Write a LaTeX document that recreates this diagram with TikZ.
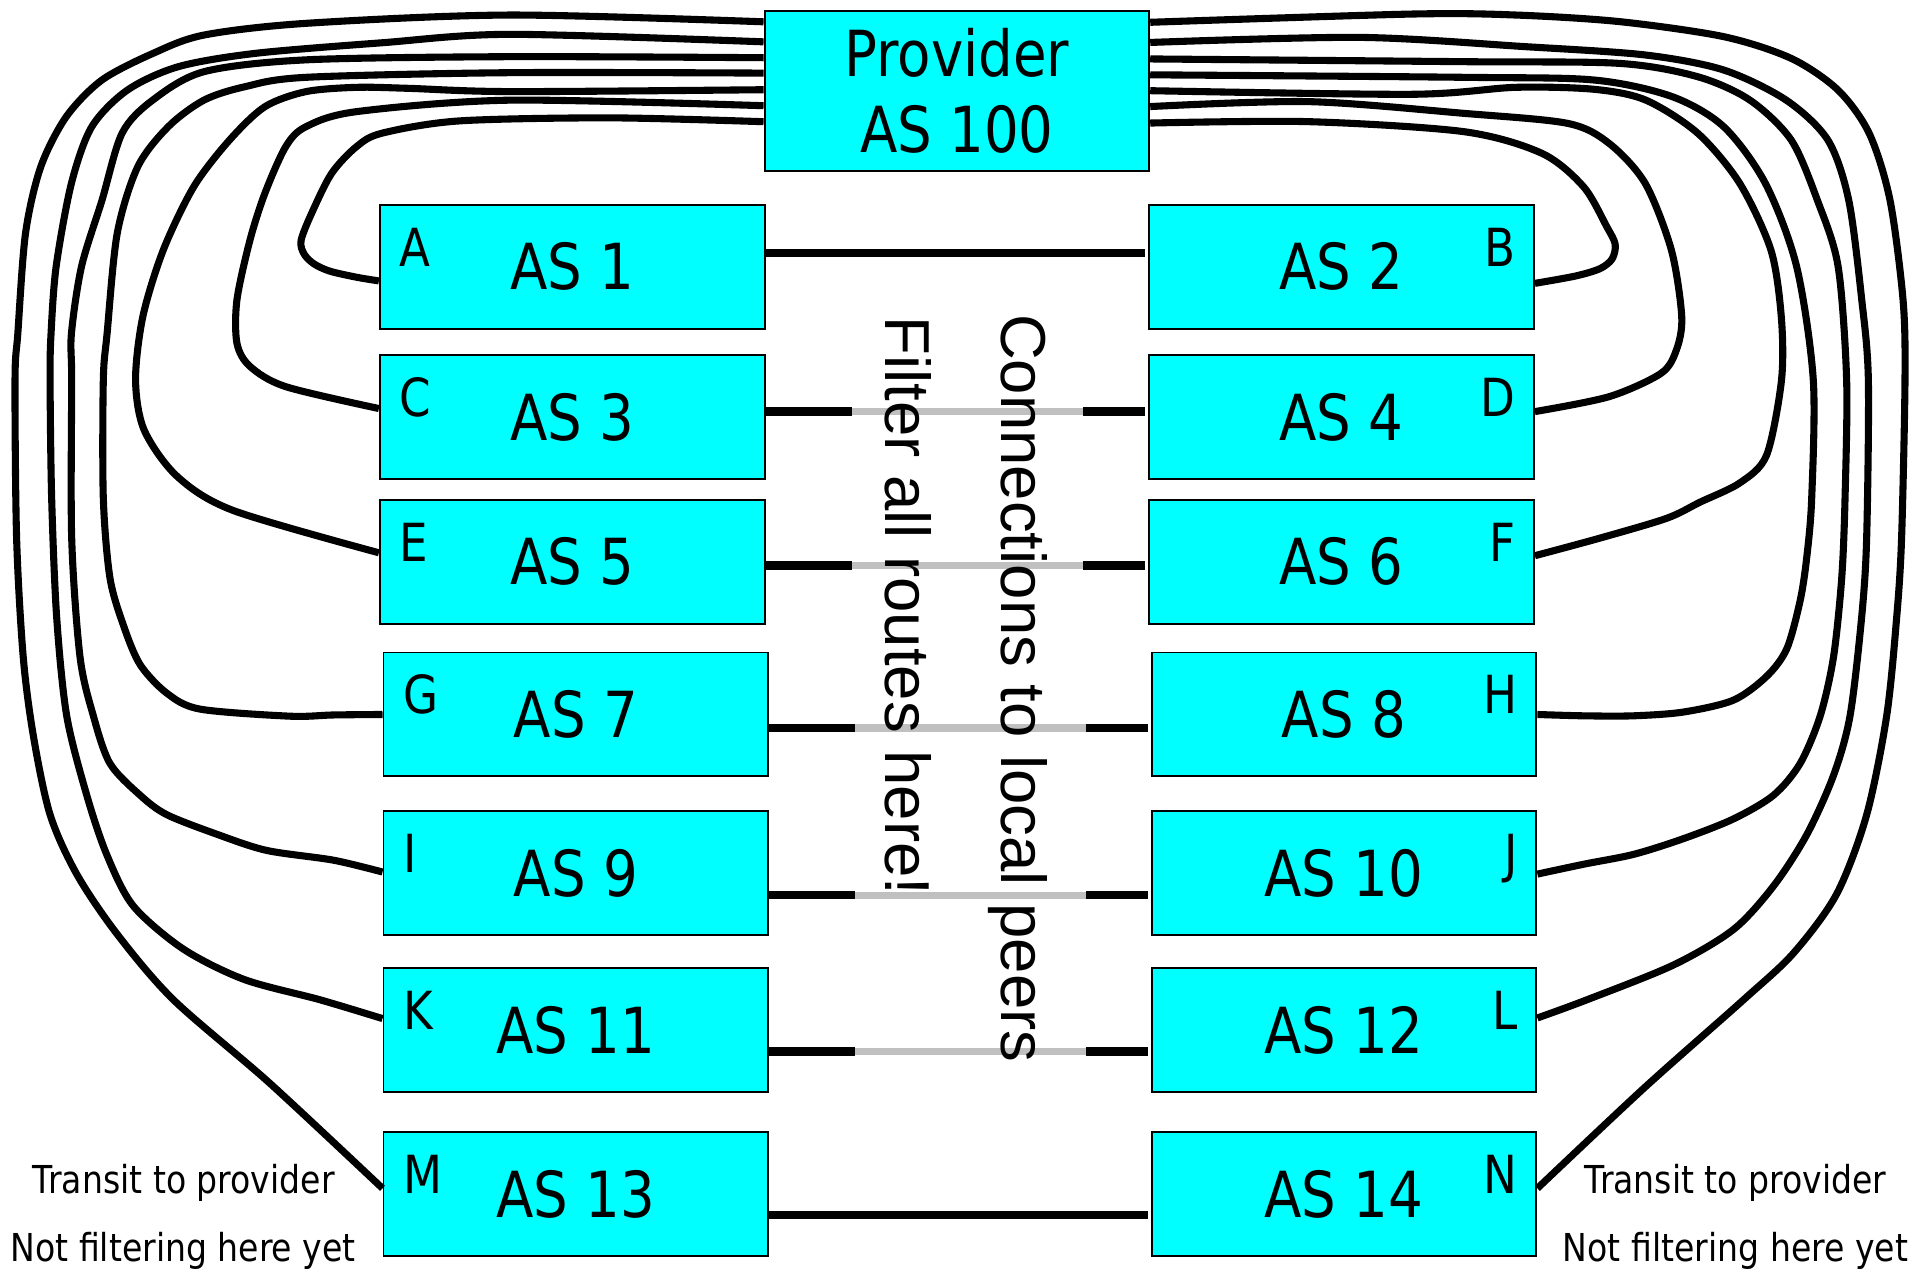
\documentclass[tikz,border=0pt]{standalone}
\usepackage{fontspec}
\newfontfamily\tah[FakeStretch=0.86]{DejaVu Sans}
\newfontfamily\ari{Liberation Sans}
\definecolor{boxc}{RGB}{0,255,255}
\definecolor{linkgray}{RGB}{192,192,192}
\begin{document}
\begin{tikzpicture}[x=1pt,y=-1pt,
  asbox/.style={draw=black, line width=1.6pt, fill=boxc, minimum width=315pt, minimum height=101.5pt, inner sep=0pt, font=\tah\fontsize{52}{62}\selectfont},
  tagl/.style={font=\tah\fontsize{43}{50}\selectfont, inner sep=0pt, anchor=base west},
  tagr/.style={font=\tah\fontsize{43}{50}\selectfont, inner sep=0pt, anchor=base east},
  note/.style={font=\tah\fontsize{31.5}{36}\selectfont, inner sep=0pt, anchor=base},
  rot/.style={font=\ari\fontsize{52}{60}\selectfont, inner sep=0pt, rotate=-90, anchor=base west},
  wire/.style={line width=5.8pt, line join=round},
  link/.style={line width=6.8pt},
  glink/.style={line width=6pt, draw=linkgray}]
\useasboundingbox (0,0) rectangle (1568,1045);

% boxes
\node[asbox, minimum height=130.7pt, align=center] (P) at (783.5,74.4) {Provider\\AS 100};
\node[asbox] (a1) at (468.5,218.5) {AS 1};
\node[asbox] (a3) at (468.5,341.5) {AS 3};
\node[asbox] (a5) at (468.5,460) {AS 5};
\node[asbox] (a7) at (471.5,585) {AS 7};
\node[asbox] (a9) at (471.5,715) {AS 9};
\node[asbox] (a11) at (471.5,843.5) {AS 11};
\node[asbox] (a13) at (471.5,978) {AS 13};
\node[asbox] (a2) at (1098.5,218.5) {AS 2};
\node[asbox] (a4) at (1098.5,341.5) {AS 4};
\node[asbox] (a6) at (1098.5,460) {AS 6};
\node[asbox] (a8) at (1100.5,585) {AS 8};
\node[asbox] (a10) at (1100.5,715) {AS 10};
\node[asbox] (a12) at (1100.5,843.5) {AS 12};
\node[asbox] (a14) at (1100.5,978) {AS 14};

% letters
\node[tagl] (lA) at ([xshift=17pt,yshift=-51pt]a1.north west) {A};
\node[tagl] (lC) at ([xshift=17pt,yshift=-51pt]a3.north west) {C};
\node[tagl] (lE) at ([xshift=17pt,yshift=-51pt]a5.north west) {E};
\node[tagl] (lG) at ([xshift=17pt,yshift=-51pt]a7.north west) {G};
\node[tagl] (lI) at ([xshift=17pt,yshift=-51pt]a9.north west) {I};
\node[tagl] (lK) at ([xshift=17pt,yshift=-51pt]a11.north west) {K};
\node[tagl] (lM) at ([xshift=17pt,yshift=-51pt]a13.north west) {M};
\node[tagr] (lB) at ([xshift=-16pt,yshift=-51pt]a2.north east) {B};
\node[tagr] (lD) at ([xshift=-16pt,yshift=-51pt]a4.north east) {D};
\node[tagr] (lF) at ([xshift=-16pt,yshift=-51pt]a6.north east) {F};
\node[tagr] (lH) at ([xshift=-16pt,yshift=-51pt]a8.north east) {H};
\node[tagr] (lJ) at ([xshift=-16pt,yshift=-51pt]a10.north east) {J};
\node[tagr] (lL) at ([xshift=-16pt,yshift=-51pt]a12.north east) {L};
\node[tagr] (lN) at ([xshift=-16pt,yshift=-51pt]a14.north east) {N};

% peer links
\draw[link] ([yshift=11.5pt]a1.east) -- ([yshift=11.5pt,xshift=-2.5pt]a2.west);
\draw[link] ([yshift=-17pt]a13.east) -- ([yshift=-17pt,xshift=-2.5pt]a14.west);
\foreach \u/\v/\s in {a3/a4/4.5, a5/a6/-3, a7/a8/-11, a9/a10/-18, a11/a12/-17.5}{
  \path ([yshift=\s pt]\u.east) coordinate (s\u) -- ([yshift=\s pt,xshift=-2.5pt]\v.west) coordinate (t\u)
     coordinate[pos=0.228] (g1\u) coordinate[pos=0.837] (g2\u);
  \draw[link] (s\u) -- (g1\u);
  \draw[glink] (g1\u) -- (g2\u);
  \draw[link] (g2\u) -- (t\u);
}

% curve end points
\coordinate (plM) at ([yshift=-9.6pt]P.north west);
\coordinate (plK) at ([yshift=-26pt]P.north west);
\coordinate (plI) at ([yshift=-39pt]P.north west);
\coordinate (plG) at ([yshift=-51.6pt]P.north west);
\coordinate (plE) at ([yshift=-65.2pt]P.north west);
\coordinate (plC) at ([yshift=-78.3pt]P.north west);
\coordinate (plA) at ([yshift=-91.4pt]P.north west);
\coordinate (prN) at ([yshift=-10pt]P.north east);
\coordinate (prL) at ([yshift=-26.5pt]P.north east);
\coordinate (prJ) at ([yshift=-40pt]P.north east);
\coordinate (prH) at ([yshift=-53pt]P.north east);
\coordinate (prF) at ([yshift=-66pt]P.north east);
\coordinate (prD) at ([yshift=-79pt]P.north east);
\coordinate (prB) at ([yshift=-92.5pt]P.north east);
\coordinate (eA) at ([yshift=-11.5pt]a1.west);
\coordinate (eC) at ([yshift=7pt]a3.west);
\coordinate (eE) at ([yshift=7.4pt]a5.west);
\coordinate (eG) at (a7.west);
\coordinate (eI) at ([yshift=1pt]a9.west);
\coordinate (eK) at ([yshift=9.5pt]a11.west);
\coordinate (eM) at ([yshift=5pt]a13.west);
\coordinate (eB) at ([yshift=-13.5pt]a2.east);
\coordinate (eD) at ([yshift=4.5pt]a4.east);
\coordinate (eF) at ([yshift=5pt]a6.east);
\coordinate (eH) at (a8.east);
\coordinate (eJ) at ([yshift=-0.7pt]a10.east);
\coordinate (eL) at ([yshift=10pt]a12.east);
\coordinate (eN) at ([yshift=5pt]a14.east);

% transit curves, left
\draw[wire] plot[smooth, tension=0.5] coordinates {(plA) (500,96.5) (376,99) (313,109) (292,120) (271.5,142) (255,175) (246.5,197) (249,208) (257,216) (270,222) (292,227) (eA)};
\draw[wire] plot[smooth, tension=0.5] coordinates {(plC) (418,82) (292,91.4) (250.6,103.7) (234,120) (217,158) (204.7,196.5) (194,245.6) (194,281) (204.7,300) (234,316.6) (eC)};
\draw[wire] plot[smooth, tension=0.5] coordinates {(plE) (418,75) (334,72.3) (292,71.5) (250.6,75) (217,87.3) (188,114.6) (158.7,152.8) (133.7,204.7) (117,259) (111,311) (118,352) (145,390) (191,418) (eE)};
\draw[wire] plot[smooth, tension=0.5] coordinates {(plG) (418,59.5) (250.6,63.3) (200.5,71) (167,82) (137.8,103.7) (112.8,136.5) (96,191) (87.7,273) (84.6,311) (84.6,408) (90,473) (101,511.8) (114.6,544) (136.5,567.5) (163.8,580.6) (237.4,586.4) (273,585.4) (eG)};
\draw[wire] plot[smooth, tension=0.5] coordinates {(plI) (418,46.4) (250.6,49) (167,58.7) (125,82) (100,109) (83.5,164) (66.8,218) (58.5,273) (58.7,311) (58.7,440.6) (65.5,537.7) (76.4,586) (90,625) (114.6,651) (136.5,667) (177.4,683) (218.3,696.3) (273,704.3) (eI)};
\draw[wire] plot[smooth, tension=0.5] coordinates {(plK) (418,28.1) (313,35) (208.9,43.7) (146,54.6) (104.4,73.7) (75.2,103.7) (58.5,150) (46,218) (41.8,273) (41,311) (42.3,408) (46.4,505.3) (54.6,586) (71,651) (87.3,699.5) (109,741.6) (150,777) (200,802) (262,818.6) (eK)};
\draw[wire] plot[smooth, tension=0.5] coordinates {(plM) (418,12.3) (250.6,19.1) (167,28.7) (125.3,43.7) (83.5,65.5) (54.3,95.5) (33.4,136.5) (20.9,191) (14.6,273) (12.3,311) (13.6,440.6) (19,537.7) (27.3,602.4) (41,667) (62.8,715.7) (95.5,764.3) (142,818.6) (221,887) (eM)};

% transit curves, right
\draw[wire] plot[smooth, tension=0.5] coordinates {(prB) (1071,99.6) (1198.6,107.8) (1262.4,125.5) (1296.5,152.8) (1315.6,185.6) (1322.5,200) (1320,212) (1310,220) (1290,226) (eB)};
\draw[wire] plot[smooth, tension=0.5] coordinates {(prD) (1071,83.2) (1198.6,92.8) (1283.5,101) (1317.5,117.4) (1347,150) (1368.5,204.7) (1377,259.3) (1372.6,286.6) (1360,305.7) (1317.5,324.8) (eD)};
\draw[wire] plot[smooth, tension=0.5] coordinates {(prF) (1156,77.2) (1241,71.5) (1305,73.1) (1347.4,81.9) (1390,109) (1424.4,150) (1450,204.7) (1458.5,259.3) (1458.7,311) (1446.5,372.6) (1424.7,395.3) (1391.9,411.2) (1364.6,424.4) (1310,440.6) (eF)};
\draw[wire] plot[smooth, tension=0.5] coordinates {(prH) (1198.6,63.3) (1305,65.5) (1368.8,79) (1411.3,103.7) (1445.4,150) (1471,218) (1484.7,311) (1483.4,408) (1479.3,456.8) (1473.9,492) (1463,531.2) (1446.5,553.8) (1419.3,573.3) (1378.4,583) (1337.4,586.1) (1296.5,586.1) (eH)};
\draw[wire] plot[smooth, tension=0.5] coordinates {(prJ) (1198.6,50.5) (1326,51.9) (1390,62.8) (1432.7,81.9) (1466.6,114.6) (1488,163.8) (1505,218) (1512,311) (1510.7,408) (1508,473) (1501.3,537.7) (1490.4,586.1) (1474,625) (1452.3,651) (1419.6,670.4) (1378.6,686.6) (1337.7,699.5) (1296.8,707.6) (eJ)};
\draw[wire] plot[smooth, tension=0.5] coordinates {(prL) (1113,30.6) (1249,38.2) (1347,45) (1411.3,57.3) (1462.4,81.9) (1496.6,114.6) (1513.7,163.8) (1524.4,245.6) (1529.8,311) (1528.4,440.6) (1524.3,505.3) (1514.8,586.1) (1501.3,634.8) (1479.4,683.4) (1452.2,725.4) (1419.4,761) (1370.3,790.1) (1299.4,818.6) (eL)};
\draw[wire] plot[smooth, tension=0.5] coordinates {(prN) (1155.9,11.5) (1241,12.3) (1326,17.7) (1411.3,30) (1466.6,47.8) (1504.9,73.7) (1530.5,109.2) (1547.5,163.8) (1558.2,245.6) (1559.8,311) (1557,440.6) (1553,505.3) (1544.8,586.1) (1528.4,667.2) (1503.9,731.9) (1468.5,780.4) (1427.6,818.6) (1346,891) (eN)};

% texts
\node[rot] (filt) at (725,259) {Filter all routes here!};
\node[rot] (conn) at (820,257) {Connections to local peers};
\node[note] (tl1) at (150.5,977) {Transit to provider};
\node[note] (tl2) at (150,1033) {Not filtering here yet};
\node[note] (tr1) at (1421,977) {Transit to provider};
\node[note] (tr2) at (1421,1033) {Not filtering here yet};
\end{tikzpicture}
\end{document}
